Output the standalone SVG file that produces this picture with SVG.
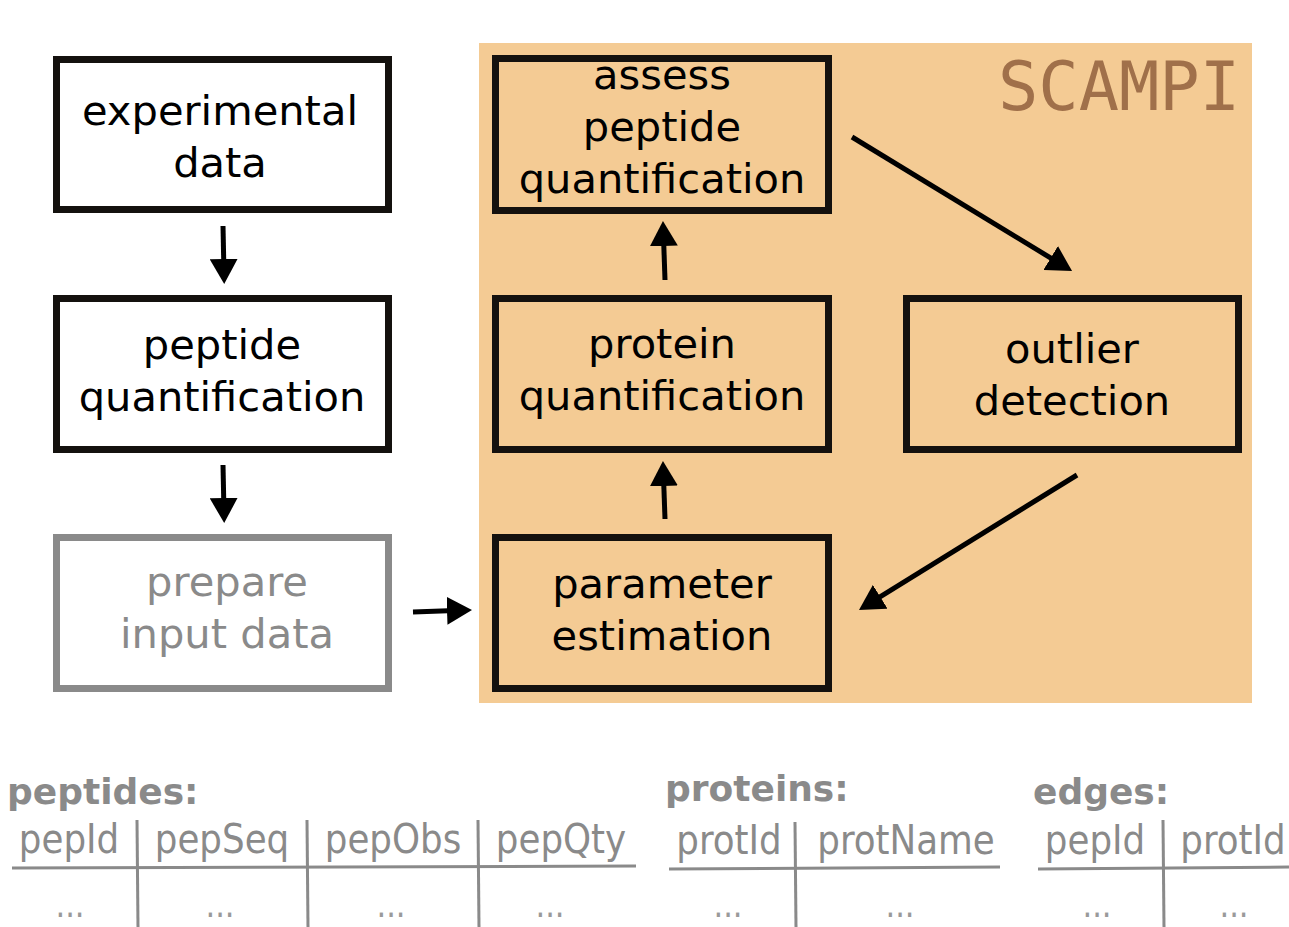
<svg xmlns="http://www.w3.org/2000/svg" width="1289" height="927" viewBox="0 0 1289 927">
  <style>
    .box { fill: none; stroke: #14110e; stroke-width: 7; }
    .box-in { fill: none; stroke: #8a8a8a; stroke-width: 7; }
    .lbl { font-family: "DejaVu Sans", "Liberation Sans", sans-serif; font-size: 41.6px; fill: #000; text-anchor: middle; }
    .lbl-in { font-family: "DejaVu Sans", "Liberation Sans", sans-serif; font-size: 41.6px; fill: #8a8a8a; text-anchor: middle; }
    .flow { stroke: #000; stroke-width: 5; fill: none; marker-end: url(#head); }
    .title { font-family: "DejaVu Sans", "Liberation Sans", sans-serif; font-size: 36px; font-weight: bold; fill: #8a8a8a; }
    .col { font-family: "DejaVu Sans", "Liberation Sans", sans-serif; font-size: 41px; fill: #8a8a8a; text-anchor: middle; }
    .dots { font-family: "DejaVu Sans", "Liberation Sans", sans-serif; font-size: 36px; fill: #9a9a9a; text-anchor: middle; }
    .rule { stroke: #8a8a8a; stroke-width: 3; fill: none; }
  </style>
  <defs>
    <marker id="head" markerUnits="userSpaceOnUse" markerWidth="26" markerHeight="28" refX="15" refY="14" orient="auto">
      <path d="M0,0 L25,14 L0,28 z" fill="#000"/>
    </marker>
  </defs>

  <rect width="1289" height="927" fill="#fff"/>

  <!-- SCAMPI panel -->
  <g id="scampi">
    <rect x="479" y="43" width="773" height="660" fill="#f4cb94"/>
    <text x="1240" y="110" font-family="DejaVu Sans Mono, Liberation Mono, monospace" font-size="67" fill="#a0704a" text-anchor="end">SCAMPI</text>
  </g>

  <g id="experimental-data">
    <rect class="box" x="56.5" y="59.5" width="332" height="150"/>
    <text class="lbl" x="220" y="125">experimental</text>
    <text class="lbl" x="220" y="177">data</text>
  </g>

  <g id="peptide-quantification">
    <rect class="box" x="56.5" y="298.5" width="332" height="151"/>
    <text class="lbl" x="222" y="359">peptide</text>
    <text class="lbl" x="222" y="411">quantification</text>
  </g>

  <g id="prepare-input-data">
    <rect class="box-in" x="56.5" y="537.5" width="332" height="151"/>
    <text class="lbl-in" x="227" y="596">prepare</text>
    <text class="lbl-in" x="227" y="648">input data</text>
  </g>

  <g id="assess-peptide-quantification">
    <rect class="box" x="495.5" y="58.5" width="333" height="152"/>
    <text class="lbl" x="662" y="89">assess</text>
    <text class="lbl" x="662" y="141">peptide</text>
    <text class="lbl" x="662" y="193">quantification</text>
  </g>

  <g id="protein-quantification">
    <rect class="box" x="495.5" y="298.5" width="333" height="151"/>
    <text class="lbl" x="662" y="358">protein</text>
    <text class="lbl" x="662" y="410">quantification</text>
  </g>

  <g id="outlier-detection">
    <rect class="box" x="906.5" y="298.5" width="332" height="151"/>
    <text class="lbl" x="1072" y="363">outlier</text>
    <text class="lbl" x="1072" y="415">detection</text>
  </g>

  <g id="parameter-estimation">
    <rect class="box" x="495.5" y="537.5" width="333" height="151"/>
    <text class="lbl" x="662" y="598">parameter</text>
    <text class="lbl" x="662" y="650">estimation</text>
  </g>

  <!-- connectors -->
  <g id="connectors">
    <line class="flow" x1="223" y1="226" x2="224" y2="274"/>
    <line class="flow" x1="223" y1="465" x2="224" y2="513"/>
    <line class="flow" x1="413" y1="612" x2="462" y2="610.3"/>
    <line class="flow" x1="665" y1="519" x2="663.3" y2="471"/>
    <line class="flow" x1="665" y1="280" x2="663.3" y2="231"/>
    <line class="flow" x1="852" y1="137" x2="1063.5" y2="265.8"/>
    <line class="flow" x1="1077" y1="475" x2="867.5" y2="604.7"/>
  </g>

  <!-- table layouts -->
  <g id="table-peptides">
    <text class="title" x="7" y="804">peptides:</text>
    <text class="col" transform="translate(69,853) scale(0.87,1)">pepId</text>
    <text class="col" transform="translate(222,853) scale(0.87,1)">pepSeq</text>
    <text class="col" transform="translate(393,853) scale(0.87,1)">pepObs</text>
    <text class="col" transform="translate(561,853) scale(0.87,1)">pepQty</text>
    <line class="rule" x1="12" y1="868" x2="636" y2="866"/>
    <line class="rule" x1="137" y1="820" x2="138" y2="927"/>
    <line class="rule" x1="307" y1="820" x2="308" y2="927"/>
    <line class="rule" x1="478" y1="820" x2="479" y2="927"/>
    <text class="dots" transform="translate(70,917) scale(0.85,1)">...</text>
    <text class="dots" transform="translate(220,917) scale(0.85,1)">...</text>
    <text class="dots" transform="translate(391,917) scale(0.85,1)">...</text>
    <text class="dots" transform="translate(550,917) scale(0.85,1)">...</text>
  </g>

  <g id="table-proteins">
    <text class="title" x="665" y="801">proteins:</text>
    <text class="col" transform="translate(729,854) scale(0.87,1)">protId</text>
    <text class="col" transform="translate(906,854) scale(0.87,1)">protName</text>
    <line class="rule" x1="669" y1="869" x2="1000" y2="867"/>
    <line class="rule" x1="795" y1="822" x2="796" y2="927"/>
    <text class="dots" transform="translate(728,917) scale(0.85,1)">...</text>
    <text class="dots" transform="translate(900,917) scale(0.85,1)">...</text>
  </g>

  <g id="table-edges">
    <text class="title" x="1033" y="804">edges:</text>
    <text class="col" transform="translate(1095,854) scale(0.87,1)">pepId</text>
    <text class="col" transform="translate(1233,854) scale(0.87,1)">protId</text>
    <line class="rule" x1="1038" y1="869" x2="1289" y2="867"/>
    <line class="rule" x1="1163" y1="820" x2="1164" y2="927"/>
    <text class="dots" transform="translate(1097,917) scale(0.85,1)">...</text>
    <text class="dots" transform="translate(1234,917) scale(0.85,1)">...</text>
  </g>
</svg>
